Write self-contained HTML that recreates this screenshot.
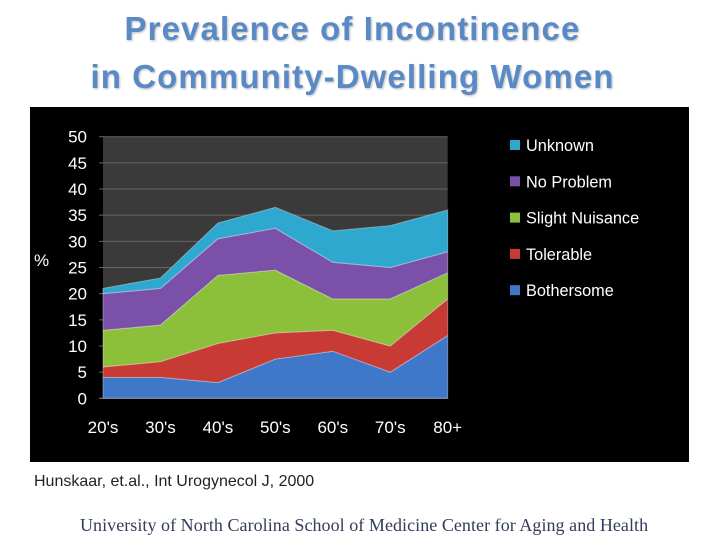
<!DOCTYPE html>
<html><head><meta charset="utf-8"><style>
body{margin:0;width:720px;height:540px;background:#fff;position:relative;overflow:hidden;font-family:"Liberation Sans",sans-serif}
.t{position:absolute;left:0;width:705px;text-align:center;color:#5a8ac6;font-weight:bold;font-size:33px;line-height:38px;text-shadow:1px 1px 2px #bbb;letter-spacing:1.1px}
</style></head><body>
<div class="t" style="top:10px">Prevalence of Incontinence</div>
<div class="t" style="top:58px">in Community-Dwelling Women</div>
<svg width="720" height="540" style="position:absolute;left:0;top:0" id="c">
<rect x="30" y="107" width="659" height="355" fill="#000"/>
<rect x="103" y="136.7" width="344.7" height="261.6" fill="#3a3a3a"/>
<g id="grid"></g><g id="areas"></g><g id="axes"></g><g id="legend"></g>
<text x="34" y="266" fill="#fff" font-size="17">%</text>
</svg>
<div style="position:absolute;left:34px;top:473px;font-size:16px;color:#222">Hunskaar, et.al., Int Urogynecol J, 2000</div>
<div style="position:absolute;left:80px;top:515px;font-family:'Liberation Serif',serif;font-size:18px;color:#333c5a;white-space:nowrap;letter-spacing:0.05px">University of North Carolina School of Medicine Center for Aging and Health</div>
<script>
const categories=["20's","30's","40's","50's","60's","70's","80+"];
const seriesNames=["Bothersome","Tolerable","Slight Nuisance","No Problem","Unknown"];
const bothersome=[4,4,3,7.5,9,5,12];
const tolerable=[2,3,7.5,5,4,5,7];
const slightNuisance=[7,7,13,12,6,9,5];
const noProblem=[7,7,7,8,7,6,4];
const unknown=[1,2,3,4,6,8,8];
const yTicks=[0,5,10,15,20,25,30,35,40,45,50];
const colors=["#3f78c8","#c83a34","#8cbf3a","#7b50a8","#2fa8cf"];
const ns="http://www.w3.org/2000/svg";
const X0=103,X1=447.7,Y0=398.3,Y1=136.7;
const xs=i=>X0+(X1-X0)*i/(categories.length-1);
const ys=v=>Y0-(Y0-Y1)*v/50;
const grid=document.getElementById('grid'),axes=document.getElementById('axes'),areas=document.getElementById('areas'),leg=document.getElementById('legend');
yTicks.forEach(t=>{
 const l=document.createElementNS(ns,'line');l.setAttribute('x1',X0-4);l.setAttribute('x2',X1);l.setAttribute('y1',ys(t));l.setAttribute('y2',ys(t));l.setAttribute('stroke',t?'#666':'#888');
 
 
 grid.appendChild(l);
 const tx=document.createElementNS(ns,'text');tx.setAttribute('x',X0-16);tx.setAttribute('y',ys(t)+6);tx.setAttribute('text-anchor','end');tx.setAttribute('fill','#fff');tx.setAttribute('font-size','17');tx.textContent=t;
 
 
 axes.appendChild(tx);
});
categories.forEach((c,i)=>{
 const tx=document.createElementNS(ns,'text');tx.setAttribute('x',xs(i));tx.setAttribute('y',433);tx.setAttribute('text-anchor','middle');tx.setAttribute('fill','#fff');tx.setAttribute('font-size','17');tx.textContent=c;
 
 
 axes.appendChild(tx);
});
const data=[bothersome,tolerable,slightNuisance,noProblem,unknown];
let base=categories.map(()=>0);
data.forEach((s,k)=>{
 const top=base.map((b,i)=>b+s[i]);
 let pts=top.map((v,i)=>xs(i)+','+ys(v));
 for(let i=base.length-1;i>=0;i--)pts.push(xs(i)+','+ys(base[i]));
 const p=document.createElementNS(ns,'polygon');p.setAttribute('points',pts.join(' '));p.setAttribute('fill',colors[k]);p.setAttribute('stroke','rgba(255,255,255,0.35)');p.setAttribute('stroke-width','1');
 
 
 areas.appendChild(p);
 base=top;
});
for(let k=4;k>=0;k--){
 const y=145+(4-k)*36.3;
 const r=document.createElementNS(ns,'rect');r.setAttribute('x',510);r.setAttribute('y',y-5);r.setAttribute('width',10);r.setAttribute('height',10);r.setAttribute('fill',colors[k]);
 
 
 leg.appendChild(r);
 const tx=document.createElementNS(ns,'text');tx.setAttribute('x',526);tx.setAttribute('y',y+6);tx.setAttribute('fill','#fff');tx.setAttribute('font-size','16.3');tx.textContent=seriesNames[k];
 
 
 leg.appendChild(tx);
}
</script>
</body></html>
